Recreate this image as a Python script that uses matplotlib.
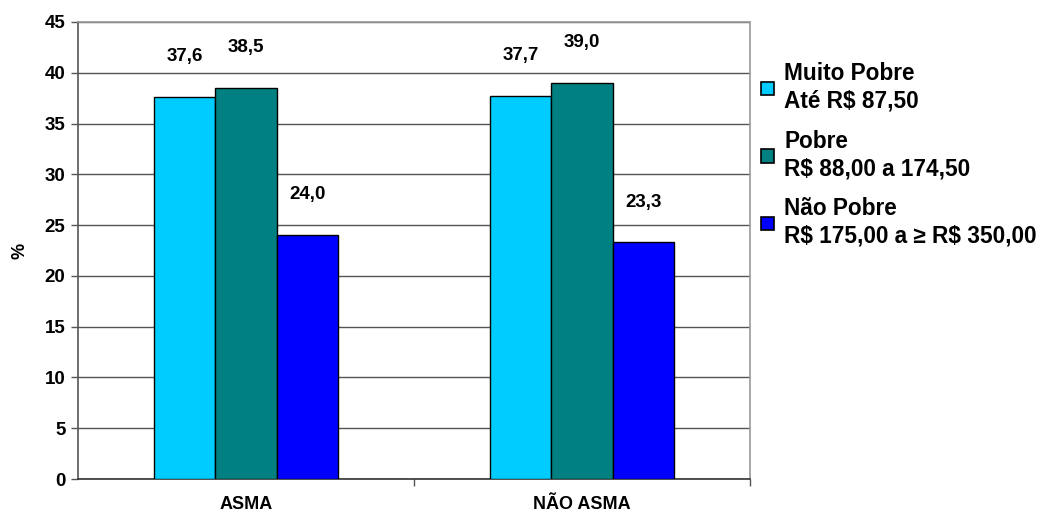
import matplotlib.pyplot as plt
from matplotlib.patches import Patch
import numpy as np

plt.rcParams['font.family'] = ['Liberation Sans', 'DejaVu Sans']
plt.rcParams['font.weight'] = 'bold'

categories = ['ASMA', 'NÃO ASMA']
series_names = ['Muito Pobre\nAté R\\$ 87,50',
                'Pobre\nR\\$ 88,00 a 174,50',
                'Não Pobre\nR\\$ 175,00 a ≥ R\\$ 350,00']
muito_pobre = [37.6, 37.7]
pobre = [38.5, 39.0]
nao_pobre = [24.0, 23.3]
colors = ['#00CCFF', '#008080', '#0000FF']

fig = plt.figure(figsize=(10.42, 5.16), dpi=100)
ax = fig.add_axes([0.0749, 0.0717, 0.6449, 0.8857])

x = np.arange(len(categories))
width = 0.183
series = [muito_pobre, pobre, nao_pobre]
for i, vals in enumerate(series):
    pos = x + (i - 1) * width
    ax.bar(pos, vals, width, color=colors[i], edgecolor='black', linewidth=1.0, zorder=3)
    for p, v in zip(pos, vals):
        ax.annotate(f'{v:.1f}'.replace('.', ','), (p, v), xytext=(0, 29),
                    textcoords='offset points', ha='center', va='center',
                    fontsize=13.5, fontweight='bold')

ax.set_xlim(-0.5, 1.5)
ax.set_ylim(0, 45)
ax.set_yticks(range(0, 46, 5))
ax.yaxis.grid(True, color='#555555', linewidth=1.0, zorder=0)
ax.set_axisbelow(True)

ax.set_xticks(x)
ax.set_xticklabels(categories, fontsize=13, fontweight='bold')
ax.set_xticks([0.5, 1.5], minor=True)
ax.tick_params(axis='x', which='major', length=0, pad=12)
ax.tick_params(axis='x', which='minor', length=5, color='#555555', width=1)
ax.tick_params(axis='y', length=5, color='#555555', width=1, labelsize=13.5, pad=4)
for lab in ax.get_yticklabels():
    lab.set_fontweight('bold')

ax.spines['left'].set_color('#555555')
ax.spines['bottom'].set_color('#333333')
ax.spines['top'].set_color('#999999')
ax.spines['right'].set_color('#999999')
for s in ax.spines.values():
    s.set_linewidth(1.2)

ax.set_ylabel('%', fontsize=13, fontweight='bold', labelpad=12)

handles = [Patch(facecolor=c, edgecolor='black', linewidth=1.2) for c in colors]
leg = fig.legend(handles, series_names, loc='upper left', bbox_to_anchor=(0.722, 0.897),
                 frameon=False, handlelength=0.55, handleheight=0.55,
                 handletextpad=0.45, labelspacing=0.75, borderaxespad=0,
                 prop={'weight': 'bold', 'size': 16.3})
for t in leg.get_texts():
    t.set_linespacing(1.25)

fig.savefig('out.png', dpi=100)
